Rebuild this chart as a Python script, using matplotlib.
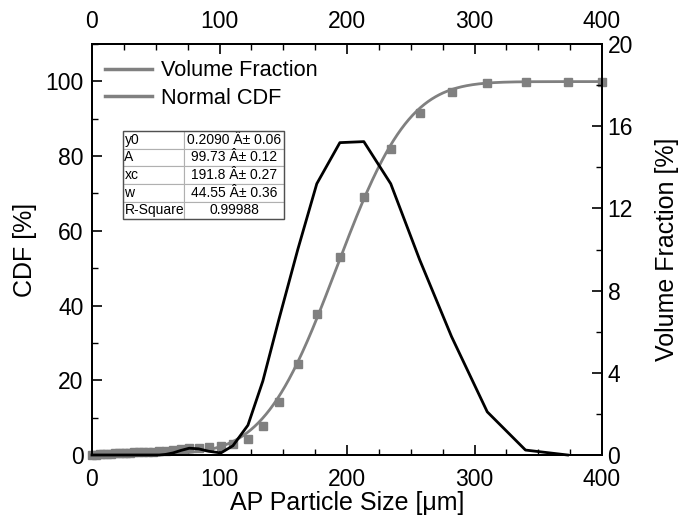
import math
import numpy as np
import matplotlib
matplotlib.use("Agg")
import matplotlib.pyplot as plt
from matplotlib.lines import Line2D
from matplotlib.ticker import MultipleLocator

plt.rcParams["font.family"] = ["Liberation Sans", "DejaVu Sans"]

# particle size bins [um]
size_um = [0, 3, 6, 9, 12, 15, 18, 21, 24, 27, 30, 33.3, 36.5, 40.0, 43.9,
           48.1, 52.8, 57.9, 63.5, 69.6, 76.3, 83.6, 91.7, 101.1, 110.5,
           122.3, 134.0, 146.6, 161.4, 176.3, 194.4, 213.2, 234.3, 257.0,
           282.0, 310.0, 340.0, 373.0, 400.0]

# cumulative distribution [%]
cdf_pct = [0.0, 0.1, 0.2, 0.3, 0.35, 0.4, 0.45, 0.5, 0.55, 0.6, 0.65, 0.7,
           0.75, 0.8, 0.85, 0.9, 1.0, 1.15, 1.35, 1.6, 1.9, 2.0, 2.1, 2.4,
           2.9, 4.3, 7.8, 14.2, 24.4, 37.7, 53.0, 69.1, 81.9, 91.5, 97.2,
           99.6, 99.8, 99.8, 99.9]

# volume fraction per bin [%]
vol_frac = [0, 0, 0, 0, 0, 0, 0, 0, 0, 0, 0, 0, 0, 0, 0, 0, 0, 0.03, 0.1,
            0.22, 0.33, 0.3, 0.18, 0.1, 0.45, 1.45, 3.6, 6.6, 10.0, 13.2,
            15.2, 15.25, 13.2, 9.5, 5.76, 2.1, 0.24, 0.0, np.nan]

# normal CDF fit parameters
fit_names = ["y0", "A", "xc", "w", "R-Square"]
fit_text = ["0.2090", "99.73", "191.8", "44.55"]
fit_errs = ["0.06", "0.12", "0.27", "0.36"]
r_square = "0.99988"

gray = "#808080"

fig = plt.figure(figsize=(6.82, 5.29), dpi=100)
ax = fig.add_axes([92 / 682, 74 / 529, 510 / 682, 411 / 529])
ax2 = ax.twinx()
ax3 = ax.twiny()

# fitted curve
y0, A, xc, w = (float(v) for v in fit_text)
xf = np.linspace(0, 400, 801)
yf = y0 + A * 0.5 * (1 + np.array([math.erf((v - xc) / (w * math.sqrt(2))) for v in xf]))
ax.plot(xf, yf, color=gray, lw=2.0, zorder=3)
ax.plot(size_um, cdf_pct, ls="none", marker="s", ms=6, color=gray,
        mec=gray, zorder=4, clip_on=False)

ax2.plot(size_um, vol_frac, color="black", lw=2.0, zorder=3, clip_on=False)

ax.set_xlim(0, 400)
ax3.set_xlim(0, 400)
ax.set_ylim(0, 110)
ax2.set_ylim(0, 20)

fs = 16.5
fl = 18
for a in (ax, ax3):
    a.xaxis.set_major_locator(MultipleLocator(100))
    a.xaxis.set_minor_locator(MultipleLocator(25))
ax.yaxis.set_major_locator(MultipleLocator(20))
ax.yaxis.set_minor_locator(MultipleLocator(10))
ax2.yaxis.set_major_locator(MultipleLocator(4))
ax2.yaxis.set_minor_locator(MultipleLocator(2))

ax.tick_params(axis="x", which="both", direction="in", top=False,
               labelsize=fs)
ax.tick_params(axis="x", which="major", length=7, width=1.2, pad=9.5)
ax.tick_params(axis="x", which="minor", length=4, width=1.0)
ax.tick_params(axis="y", which="both", direction="in", labelsize=fs)
ax.tick_params(axis="y", which="major", length=7, width=1.2, pad=6)
ax.tick_params(axis="y", which="minor", length=4, width=1.0)
ax2.tick_params(axis="y", which="both", direction="in", labelsize=fs)
ax2.tick_params(axis="y", which="major", length=7, width=1.2, pad=4)
ax2.tick_params(axis="y", which="minor", length=4, width=1.0)

# top axis repeating the size scale
ax3.tick_params(axis="x", which="both", direction="in", labelsize=fs,
                top=True, labeltop=True, bottom=False, labelbottom=False)
ax3.tick_params(axis="x", which="major", length=7, width=1.2, pad=8)
ax3.tick_params(axis="x", which="minor", length=4, width=1.0)

for a in (ax, ax2, ax3):
    for s in a.spines.values():
        s.set_linewidth(1.3)

ax.set_xlabel("AP Particle Size [μm]", fontsize=fl, labelpad=0)
ax.set_ylabel("CDF [%]", fontsize=fl, labelpad=6)
ax2.set_ylabel("Volume Fraction [%]", fontsize=fl, labelpad=16)

handles = [Line2D([], [], color=gray, lw=2.5), Line2D([], [], color=gray, lw=2.5)]
ax3.legend(handles, ["Volume Fraction", "Normal CDF"], loc="upper left",
           bbox_to_anchor=(0.025, 0.960), frameon=False, fontsize=15.7,
           handlelength=2.15, handletextpad=0.42, labelspacing=0.3,
           borderpad=0, borderaxespad=0)

# fit parameter table
cells = [[n, f"{v} Â± {e}"] for n, v, e in zip(fit_names[:4], fit_text, fit_errs)]
cells.append([fit_names[4], r_square])
tbl = ax3.table(cellText=cells, colWidths=[0.38, 0.62],
                bbox=[0.060, 0.5735, 0.3165, 0.2148], zorder=5)
tbl.auto_set_font_size(False)
tbl.set_fontsize(10)
for (r, c), cell in tbl.get_celld().items():
    cell.set_edgecolor("#b0b0b0")
    cell.set_linewidth(0.8)
    cell.set_facecolor("white")
    cell.get_text().set_ha("left" if c == 0 else "center")
    if c == 0:
        cell.PAD = 0.03
ax3.add_patch(plt.Rectangle((0.060, 0.5735), 0.3165, 0.2148,
                            transform=ax3.transAxes, fill=False,
                            ec="#505050", lw=1.0, zorder=6))

fig.savefig("out.png", dpi=100)
